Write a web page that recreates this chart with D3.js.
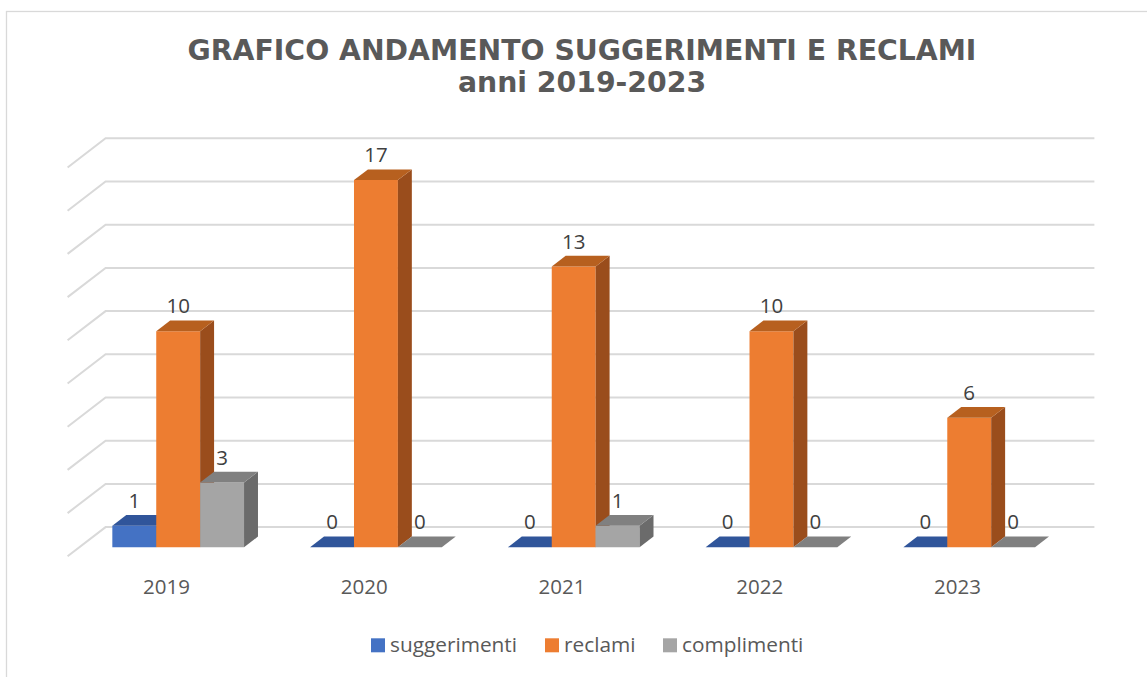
<!DOCTYPE html>
<html>
<head>
<meta charset="utf-8">
<script src="https://cdn.jsdelivr.net/npm/d3@7"></script>
<style>
  html, body { margin: 0; padding: 0; background: #fff; }
  svg { display: block; }
</style>
</head>
<body>
<svg id="chart" width="1147" height="677"></svg>
<script>
// ---- data ----
const categories = ["2019", "2020", "2021", "2022", "2023"];
const seriesNames = ["suggerimenti", "reclami", "complimenti"];
const suggerimenti = [1, 0, 0, 0, 0];
const reclami = [10, 17, 13, 10, 6];
const complimenti = [3, 0, 1, 0, 0];
const gridTicks = [0, 2, 4, 6, 8, 10, 12, 14, 16, 18];
const titleLines = ["GRAFICO ANDAMENTO SUGGERIMENTI E RECLAMI", "anni 2019-2023"];

const seriesValues = [suggerimenti, reclami, complimenti];
const colors = {
  suggerimenti: { front: "#4472C4", top: "#30559A", side: "#2C4F8C" },
  reclami:      { front: "#ED7D31", top: "#B7601F", side: "#9A4D1C" },
  complimenti:  { front: "#A5A5A5", top: "#808080", side: "#6B6B6B" }
};

const svg = d3.select("#chart");
const textColor = "#595959";

// chart border
svg.append("rect")
  .attr("x", 6.5).attr("y", 11.5).attr("width", 1200).attr("height", 700)
  .attr("fill", "none").attr("stroke", "#D9D9D9").attr("stroke-width", 1.3);

// ---- 3D projection ----
const floorFrontY = 556.3;
const depthDX = 38, depthDY = -29.2;
const x0 = d3.scaleBand().domain(categories).range([67.6, 1056.4])
  .paddingInner(0.334).paddingOuter(0.167);
const x1 = d3.scaleBand().domain(seriesNames).range([0, x0.bandwidth()]);
const y = d3.scaleLinear().domain([0, 18]).range([0, 388.8]);
const P = (x, v, d) => [x + depthDX * d, floorFrontY - y(v) + depthDY * d];

const plotX0 = x0.range()[0], plotX1 = x0.range()[1];

// gridlines (side wall + back wall)
const gGrid = svg.append("g");
gridTicks.forEach(t => {
  const pts = [P(plotX0, t, 0), P(plotX0, t, 1), P(plotX1, t, 1)];
  gGrid.append("path")
    .attr("d", d3.line()(pts))
    .attr("fill", "none").attr("stroke", "#D9D9D9").attr("stroke-width", 2);
});

// bars
const dFront = 0.308, dBack = 0.675;
const gBars = svg.append("g");
const labels = [];
categories.forEach((cat, ci) => {
  seriesNames.forEach((s, si) => {
    const v = seriesValues[si][ci];
    const xl = x0(cat) + x1(s);
    const xr = xl + x1.bandwidth();
    const c = colors[s];
    if (v > 0) {
      // front face
      gBars.append("path")
        .attr("d", d3.line()([P(xl, 0, dFront), P(xr, 0, dFront), P(xr, v, dFront), P(xl, v, dFront)]) + "Z")
        .attr("fill", c.front);
      // side face
      gBars.append("path")
        .attr("d", d3.line()([P(xr, 0, dFront), P(xr, 0, dBack), P(xr, v, dBack), P(xr, v, dFront)]) + "Z")
        .attr("fill", c.side);
    }
    // top face
    gBars.append("path")
      .attr("d", d3.line()([P(xl, v, dFront), P(xr, v, dFront), P(xr, v, dBack), P(xl, v, dBack)]) + "Z")
      .attr("fill", c.top);
    const top = P((xl + xr) / 2, v, dFront);
    labels.push({ x: top[0], y: top[1] - 18, text: String(v) });
  });
});

// data labels
svg.append("g").selectAll("text").data(labels).join("text")
  .attr("x", d => d.x).attr("y", d => d.y)
  .attr("text-anchor", "middle")
  .attr("font-family", "'Open Sans', sans-serif").attr("font-size", 20.5)
  .attr("fill", "#404040")
  .text(d => d.text);

// category labels
svg.append("g").selectAll("text").data(categories).join("text")
  .attr("x", d => x0(d) + x0.bandwidth() / 2)
  .attr("y", 594)
  .attr("text-anchor", "middle")
  .attr("font-family", "'Open Sans', sans-serif").attr("font-size", 20.5)
  .attr("fill", textColor)
  .text(d => d);

// title
svg.append("g").selectAll("text").data(titleLines).join("text")
  .attr("x", 582).attr("y", (d, i) => i === 0 ? 59.5 : 92)
  .attr("text-anchor", "middle")
  .attr("font-family", "'DejaVu Sans', Verdana, sans-serif")
  .attr("font-weight", "bold").attr("font-size", 28.3)
  .attr("fill", textColor)
  .text(d => d);

// legend
const legendX = [371, 545, 663];
const gLeg = svg.append("g");
seriesNames.forEach((s, i) => {
  gLeg.append("rect").attr("x", legendX[i]).attr("y", 638.3).attr("width", 14).attr("height", 14)
    .attr("fill", colors[s].front);
  gLeg.append("text").attr("x", legendX[i] + 19).attr("y", 652)
    .attr("font-family", "'Open Sans', sans-serif").attr("font-size", 20.8)
    .attr("fill", textColor)
    .text(s);
});
</script>
</body>
</html>
